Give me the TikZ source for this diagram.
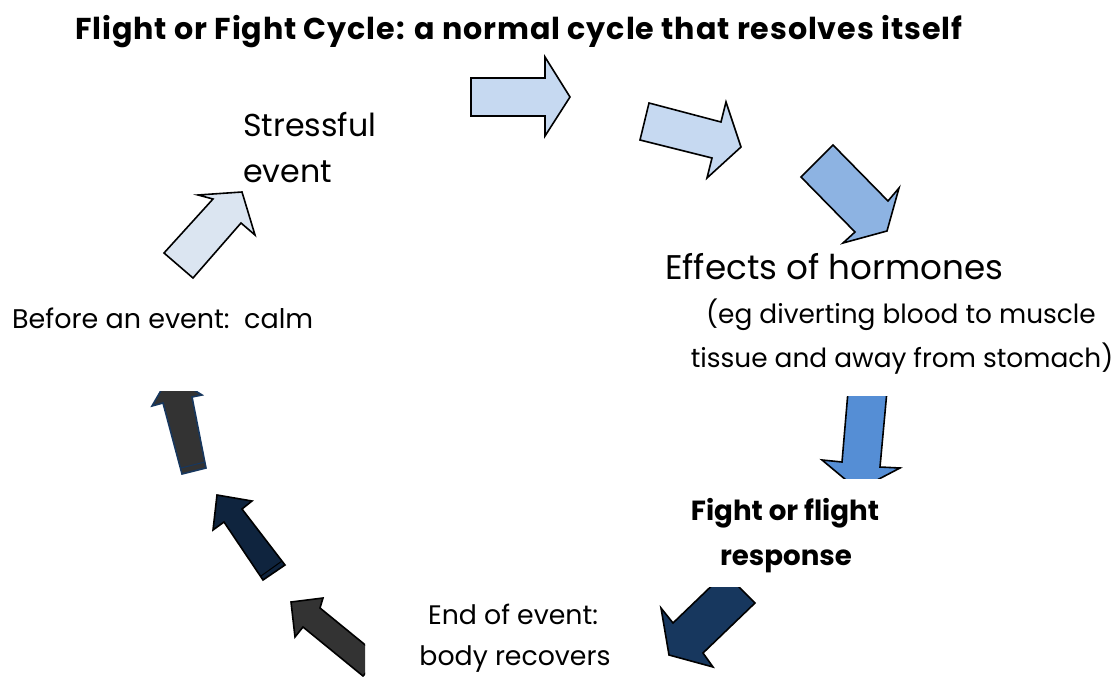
\documentclass[tikz,border=0pt]{standalone}
\usepackage{fontspec}
\setmainfont{Poppins}
\usepackage{graphicx}

\definecolor{paleblue}{HTML}{C6D9F1}
\definecolor{mistblue}{HTML}{DBE5F1}
\definecolor{skyblue}{HTML}{8DB3E2}
\definecolor{midblue}{HTML}{558ED5}
\definecolor{navy}{HTML}{17375E}
\definecolor{deepnavy}{HTML}{0F243E}
\definecolor{charcoal}{HTML}{333333}

% Typeset #4 at the common scale that makes lines #2 and #3 together #1 pt wide
% (used inside node text, where the font is active)
\newlength\lnwa
\newlength\lnwb
\newcommand{\pairfit}[4]{%
  \settowidth\lnwa{#2}\settowidth\lnwb{#3}%
  \pgfmathsetmacro\pfscale{#1/(\lnwa+\lnwb)}%
  \scalebox{\pfscale}{#4}}

\newcommand{\headline}{\bfseries\addfontfeature{LetterSpace=3}Flight or Fight Cycle: a normal cycle that resolves itself}
\newcommand{\egA}{(eg diverting blood to muscle}
\newcommand{\egB}{tissue and away from stomach)}

\begin{document}
\begin{tikzpicture}[x=1pt,y=-1pt,
  blockarrow/.style={draw=black, line width=1.6pt, line join=miter},
  lbl/.style={inner sep=0pt, anchor=base west, text=black},
  lblc/.style={inner sep=0pt, anchor=base, text=black}]
\useasboundingbox (0,0) rectangle (1120,677);

% ---- labels ----
\node[lbl] (title) at (75,40) {\pairfit{887}{\headline}{}{\headline}};
\node[lbl] (stress1) at (243,136) {\pairfit{222}{Stressful}{event}{Stressful}};
\node[lbl] (stress2) at (243,182) {\pairfit{222}{Stressful}{event}{event}};
\node[lbl] (calm) at (12,328) {\pairfit{301}{Before an event:\ \ calm}{}{Before an event:\ \ calm}};
\node[lbl] (effects) at (665,279) {\pairfit{338}{Effects of hormones}{}{Effects of hormones}};
\node[lblc] (eg1) at (901,323) {\pairfit{812}{\egA}{\egB}{\egA}};
\node[lblc] (eg2) at (902,367) {\pairfit{812}{\egA}{\egB}{\egB}};
\node[lblc] (fight1) at (785,520) {\pairfit{320}{\bfseries Fight or flight}{\bfseries response}{\bfseries Fight or flight}};
\node[lblc] (fight2) at (786,565) {\pairfit{320}{\bfseries Fight or flight}{\bfseries response}{\bfseries response}};
\node[lblc] (end1) at (513,624) {\pairfit{361}{End of event:}{body recovers}{End of event:}};
\node[lblc] (end2) at (515,665) {\pairfit{361}{End of event:}{body recovers}{body recovers}};

% ---- block arrows round the cycle ----
% top: pointing right
\draw[blockarrow, fill=paleblue] (471,78) -- (545,78) -- (545,57) -- (570,97)
  -- (545,136) -- (545,116) -- (471,116) -- cycle;
% tilted down to the right
\draw[blockarrow, fill=paleblue] (649,103) -- (721,122) -- (726,102) -- (741,147)
  -- (707,178) -- (712,158) -- (640,140) -- cycle;
% diagonal down towards the hormones
\draw[blockarrow, fill=skyblue] (833,145) -- (888,201) -- (899,188) -- (887,231)
  -- (843,243) -- (855,232) -- (801,177) -- cycle;
% downwards, partly hidden behind the text boxes
\begin{scope}
  \clip (800,396) rectangle (930,478);
  \draw[blockarrow, fill=midblue] (849,380) -- (888,380) -- (880,467) -- (900,468)
    -- (858,490) -- (822,460) -- (842,462) -- cycle;
\end{scope}
% down to the left
\begin{scope}
  \clip (640,587) rectangle (780,677);
  \draw[blockarrow, fill=navy] (725,573) -- (755,603) -- (703,653) -- (713,667)
    -- (669,655) -- (661,608) -- (673,623) -- cycle;
\end{scope}
% up to the left, cut at the text box
\begin{scope}
  \clip (270,580) rectangle (365,677);
  \draw[blockarrow, fill=charcoal] (291,602) -- (323,598) -- (320,608) -- (380,657)
    -- (363,676) -- (303,627) -- (295,637) -- cycle;
\end{scope}
% up to the left, deep navy
\draw[blockarrow, fill=deepnavy] (217,495) -- (252,501) -- (242,509) -- (285,565)
  -- (263,580) -- (224,522) -- (213,530) -- cycle;
\draw[line width=1pt, black] (282,561) -- (261,576);
% upwards, cut at the top
\begin{scope}
  \clip (140,391) rectangle (230,490);
  \draw[blockarrow, draw=navy, fill=charcoal] (170,375) -- (202,395) -- (192,397)
    -- (206,468) -- (182,474) -- (163,403) -- (152,406) -- cycle;
\end{scope}
\draw[line width=1pt, navy] (181,468) -- (205,462);
% up to the right, towards the stressful event
\draw[blockarrow, fill=mistblue] (242,192) -- (255,235) -- (241,223) -- (193,278)
  -- (164,253) -- (213,199) -- (198,195) -- cycle;
\end{tikzpicture}
\end{document}
